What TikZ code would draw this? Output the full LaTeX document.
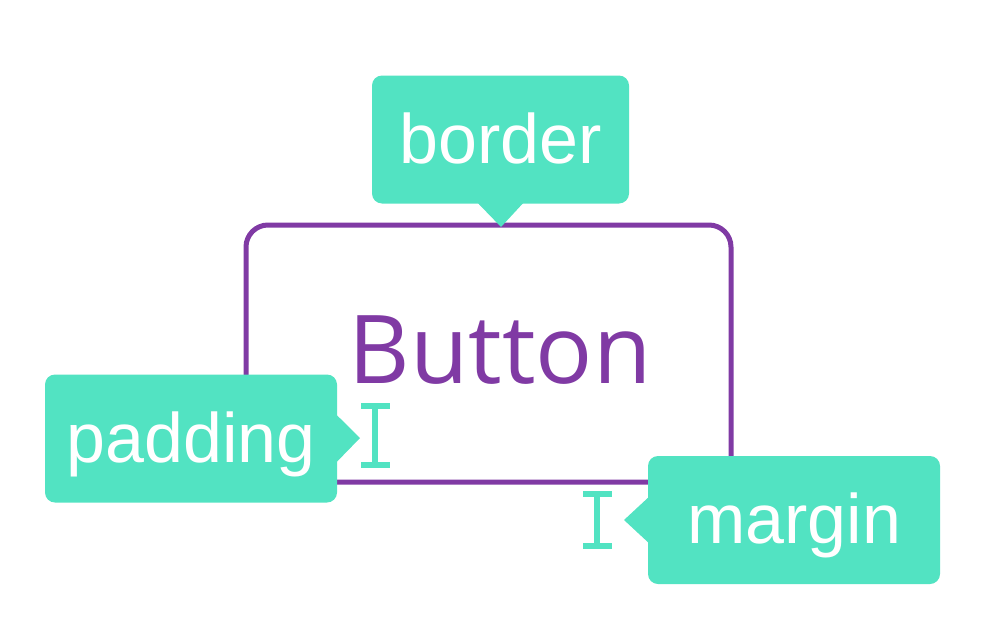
\documentclass[tikz,border=0pt]{standalone}
\usepackage{fontspec}
\usepackage{tikz}
\usetikzlibrary{calc}
\newfontfamily\tagfont{Liberation Sans}
\newfontfamily\btnfont{Open Sans}
\definecolor{mint}{RGB}{82,227,194}
\definecolor{grape}{RGB}{128,58,164}
\tikzset{tagbox/.style={fill=mint, text=white, rounded corners=10, inner sep=0pt, minimum height=128, text height=47, text depth=0, font=\tagfont\fontsize{70}{80}\selectfont}, ibeam/.style={draw=mint, line width=6}}

\begin{document}
\begin{tikzpicture}[x=1pt, y=-1pt]
\useasboundingbox (0, 0) rectangle (1008, 642);
 \node[draw=grape, line width=5, rounded corners=22, minimum width=485, minimum height=257, inner sep=0pt] (btn) at (488.5, 353.5) {};
 \node[text=grape, anchor=base, inner sep=0pt, font=\btnfont\fontsize{95}{100}\selectfont] (btnlabel) at (500, 383) {Button};
 % callouts
 \node[tagbox, minimum width=257] (border) at (500.5, 139.5) {border};
 \node[tagbox, minimum width=292] (padding) at (191, 438.5) {padding};
 \node[tagbox, minimum width=292] (margin) at (794, 520) {margin};
 \coordinate (bordertip) at (501, 227);
 \coordinate (paddingtip) at (360, 438);
 \coordinate (margintip) at (624, 520);
 \fill[mint] ([xshift=-23pt, yshift=1pt]border.south) -- (bordertip) -- ([xshift=23pt, yshift=1pt]border.south) -- cycle;
 \fill[mint] ([xshift=-1pt, yshift=24pt]padding.east) -- (paddingtip) -- ([xshift=-1pt, yshift=-24pt]padding.east) -- cycle;
 \fill[mint] ([xshift=1pt, yshift=23pt]margin.west) -- (margintip) -- ([xshift=1pt, yshift=-23pt]margin.west) -- cycle;
 % spacing marks
 \draw[ibeam] (361, 406) -- (390, 406) (374.7, 406) -- (374.7, 464.5) (361, 464.5) -- (390, 464.5);
 \draw[ibeam] (583, 494) -- (612, 494) (597.3, 494) -- (597.3, 546.3) (583, 546.3) -- (612, 546.3);
\end{tikzpicture}
\end{document}
